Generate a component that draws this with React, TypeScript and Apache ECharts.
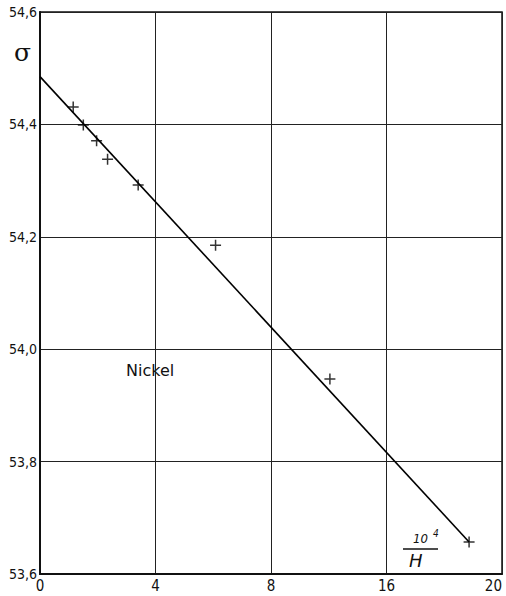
import React, { useEffect, useRef } from "react";
import * as echarts from "echarts";

const xTickLabels = ["0", "4", "8", "16", "20"];
const measuredX = [1.15, 1.5, 1.96, 2.34, 3.4, 6.08, 10.04, 14.86];
const measuredSigma = [54.431, 54.399, 54.371, 54.338, 54.292, 54.185, 53.947, 53.657];
const fitX = [0, 14.86];
const fitSigma = [54.485, 53.657];

export default function App() {
  const ref = useRef<HTMLDivElement>(null);
  useEffect(() => {
    if (!ref.current) return;
    document.body.style.margin = "0";
    document.body.style.overflow = "hidden";
    document.documentElement.style.overflow = "hidden";
    const chart = echarts.init(ref.current, undefined, { renderer: "svg", width: 506, height: 596 });
    const font = "'DejaVu Sans Condensed', 'DejaVu Sans', sans-serif";
    chart.setOption({
      animation: false,
      backgroundColor: "#fff",
      grid: {
        left: 40,
        right: 4,
        top: 12,
        bottom: 22,
        outerBoundsMode: "none",
        containLabel: false,
        show: true,
        borderColor: "#111",
        borderWidth: 1.5,
      },
      xAxis: {
        type: "value",
        min: 0,
        max: 16,
        interval: 4,
        axisLine: { show: true, lineStyle: { color: "#111", width: 2 } },
        axisTick: { show: false },
        splitLine: { show: true, lineStyle: { color: "#222", width: 1 } },
        axisLabel: {
          color: "#111",
          fontFamily: font,
          fontSize: 15,
          margin: 4,
          alignMaxLabel: "right",
          formatter: (v: number) => xTickLabels[Math.round(v / 4)] ?? "",
        },
      },
      yAxis: {
        type: "value",
        min: 53.6,
        max: 54.6,
        interval: 0.2,
        axisLine: { show: true, lineStyle: { color: "#111", width: 2 } },
        axisTick: { show: false },
        splitLine: { show: true, lineStyle: { color: "#222", width: 1 } },
        axisLabel: {
          color: "#111",
          fontFamily: font,
          fontSize: 14,
          margin: 3,
          formatter: (v: number) => v.toFixed(1).replace(".", ","),
        },
      },
      series: [
        {
          type: "line",
          data: fitX.map((x, i) => [x, fitSigma[i]]),
          symbol: "none",
          lineStyle: { color: "#000", width: 1.6 },
          z: 3,
        },
        {
          type: "scatter",
          data: measuredX.map((x, i) => [x, measuredSigma[i]]),
          symbol: "path://M0,5 L10,5 M5,0 L5,10",
          symbolSize: 11,
          itemStyle: { color: "none", borderColor: "#000", borderWidth: 1.5 },
          z: 4,
        },
      ],
      graphic: [
        {
          type: "text",
          left: 14,
          top: 40,
          style: { text: "σ", fontSize: 25, fill: "#111", fontFamily: "'DejaVu Serif', serif" },
        },
        {
          type: "text",
          left: 126,
          top: 362,
          style: { text: "Nickel", fontSize: 16, fill: "#111", fontFamily: "'DejaVu Sans', sans-serif" },
        },
        {
          type: "text",
          left: 413,
          top: 532,
          style: { text: "10", fontSize: 13, fontStyle: "italic", fill: "#111", fontFamily: "'DejaVu Sans Condensed', sans-serif" },
        },
        {
          type: "text",
          left: 433,
          top: 528,
          style: { text: "4", fontSize: 10, fontStyle: "italic", fill: "#111", fontFamily: "'DejaVu Sans Condensed', sans-serif" },
        },
        {
          type: "line",
          shape: { x1: 403, y1: 549, x2: 438, y2: 549 },
          style: { stroke: "#111", lineWidth: 1.5 },
        },
        {
          type: "text",
          left: 409,
          top: 551,
          style: { text: "H", fontSize: 18, fontStyle: "italic", fill: "#111", fontFamily: "'DejaVu Sans', sans-serif" },
        },
      ],
    });
    return () => chart.dispose();
  }, []);
  return (
    <div
      ref={ref}
      style={{ position: "fixed", left: 0, top: 0, width: 506, height: 596 }}
    />
  );
}
